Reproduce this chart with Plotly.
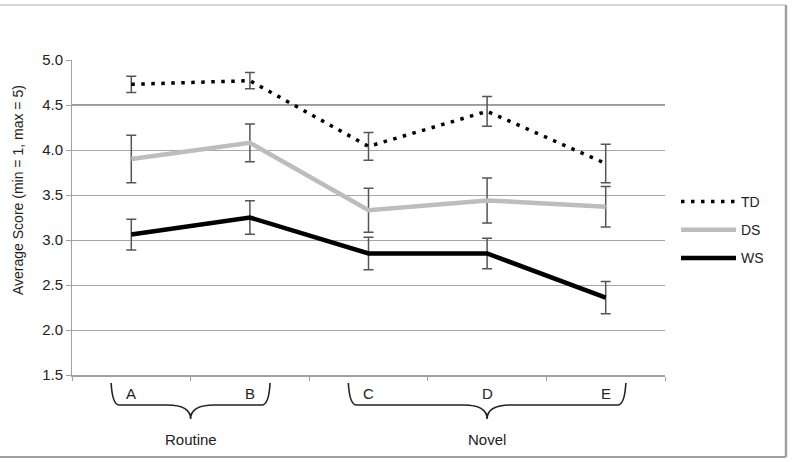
import plotly.graph_objects as go

categories = ["A", "B", "C", "D", "E"]
groups = ["Routine", "Novel"]
group_members = [[0, 1], [2, 3, 4]]
series_names = ["TD", "DS", "WS"]
td_values = [4.73, 4.77, 4.04, 4.43, 3.85]
td_errors = [0.09, 0.09, 0.155, 0.165, 0.215]
ds_values = [3.90, 4.08, 3.33, 3.44, 3.37]
ds_errors = [0.265, 0.21, 0.245, 0.25, 0.225]
ws_values = [3.06, 3.25, 2.85, 2.85, 2.36]
ws_errors = [0.17, 0.185, 0.18, 0.17, 0.18]
y_ticks = [1.5, 2.0, 2.5, 3.0, 3.5, 4.0, 4.5, 5.0]
y_title = "Average Score (min = 1, max = 5)"

FONT = "Liberation Sans, Arial, sans-serif"
W, H = 795, 462
L, R, T, B = 72, 130, 60, 87
PW, PH = W - L - R, H - T - B

def px2py(py):
    return (H - B - py) / PH

def pxx2paper(px):
    return (px - L) / PW

xs = list(range(len(categories)))
styles = [
    dict(color="black", width=3.5, dash="3.5px,6.5px"),
    dict(color="#bdbdbd", width=4.5, dash="solid"),
    dict(color="black", width=4.5, dash="solid"),
]
fig = go.Figure()
for name, vals, errs, st in zip(series_names, [td_values, ds_values, ws_values],
                                [td_errors, ds_errors, ws_errors], styles):
    fig.add_trace(go.Scatter(
        x=xs, y=vals, name=name, mode="lines", legendgroup=name,
        line=st,
        error_y=dict(type="data", array=errs, visible=True, color="#555555",
                     thickness=1.5, width=5),
    ))

shapes = []
shapes.append(dict(type="line", xref="paper", yref="y", x0=0, x1=1, y0=4.5, y1=4.5,
                   line=dict(color="#9a9a9a", width=2), layer="below"))
top, bot = px2py(5), px2py(457)
left, right = pxx2paper(0), pxx2paper(786)
shapes.append(dict(type="line", xref="paper", yref="paper", x0=left, x1=right, y0=top, y1=top,
                   line=dict(color="#c8c8c8", width=1.5)))
shapes.append(dict(type="line", xref="paper", yref="paper", x0=right, x1=right, y0=top, y1=bot,
                   line=dict(color="#a0a0a0", width=2.5)))
shapes.append(dict(type="line", xref="paper", yref="paper", x0=left, x1=right, y0=bot, y1=bot,
                   line=dict(color="#a0a0a0", width=2)))

yT, yB, yTip = px2py(383), px2py(405), px2py(419)
annotations = []
for gname, members in zip(groups, group_members):
    lo, hi = min(members), max(members)
    tip = (lo + hi) / 2
    x0 = lo - 0.17
    x1 = hi + 0.17
    r = 0.07
    d = 0.2
    path = (f"M {x0},{yT} Q {x0+0.01},{yB} {x0+r},{yB} "
            f"L {tip-d},{yB} Q {tip},{yB} {tip},{yTip} "
            f"Q {tip},{yB} {tip+d},{yB} "
            f"L {x1-r},{yB} Q {x1-0.01},{yB} {x1},{yT}")
    shapes.append(dict(type="path", xref="x", yref="paper", path=path,
                       line=dict(color="#222222", width=1.6)))
    annotations.append(dict(x=tip, y=px2py(439), xref="x", yref="paper", text=gname,
                            showarrow=False, font=dict(family=FONT, size=15, color="#222"),
                            xanchor="center", yanchor="middle"))

for i, c in enumerate(categories):
    annotations.append(dict(x=i, y=px2py(393), xref="x", yref="paper", text=c,
                            showarrow=False, font=dict(family=FONT, size=15, color="#222"),
                            xanchor="center", yanchor="middle"))

annotations.append(dict(x=pxx2paper(18), y=px2py(190), xref="paper", yref="paper",
                        text=y_title, textangle=-90, showarrow=False,
                        font=dict(family=FONT, size=14, color="#222"),
                        xanchor="center", yanchor="middle"))

fig.update_layout(
    width=W, height=H,
    margin=dict(l=L, r=R, t=T, b=B, pad=0),
    paper_bgcolor="white", plot_bgcolor="white",
    font=dict(family=FONT, size=14, color="#222"),
    showlegend=True,
    legend=dict(x=pxx2paper(676), y=px2py(186), xanchor="left", yanchor="top",
                tracegroupgap=7, itemwidth=55, font=dict(size=14), bgcolor="rgba(0,0,0,0)"),
    xaxis=dict(range=[-0.5, len(categories) - 0.5], showgrid=False, zeroline=False,
               tickvals=[i - 0.5 for i in range(len(categories) + 1)],
               ticktext=[""] * (len(categories) + 1),
               ticks="outside", ticklen=4, tickcolor="#a0a0a0",
               showline=True, linecolor="#a0a0a0", linewidth=1.5, fixedrange=True),
    yaxis=dict(range=[1.5, 5.0], tickvals=y_ticks, tickformat=".1f",
               showgrid=True, gridcolor="#a6a6a6", gridwidth=1, zeroline=False,
               ticks="outside", ticklen=5, tickcolor="#a0a0a0",
               showline=True, linecolor="#a0a0a0", linewidth=1,
               tickfont=dict(size=15, color="#222")),
    shapes=shapes, annotations=annotations,
)
fig.write_html("out.html")
